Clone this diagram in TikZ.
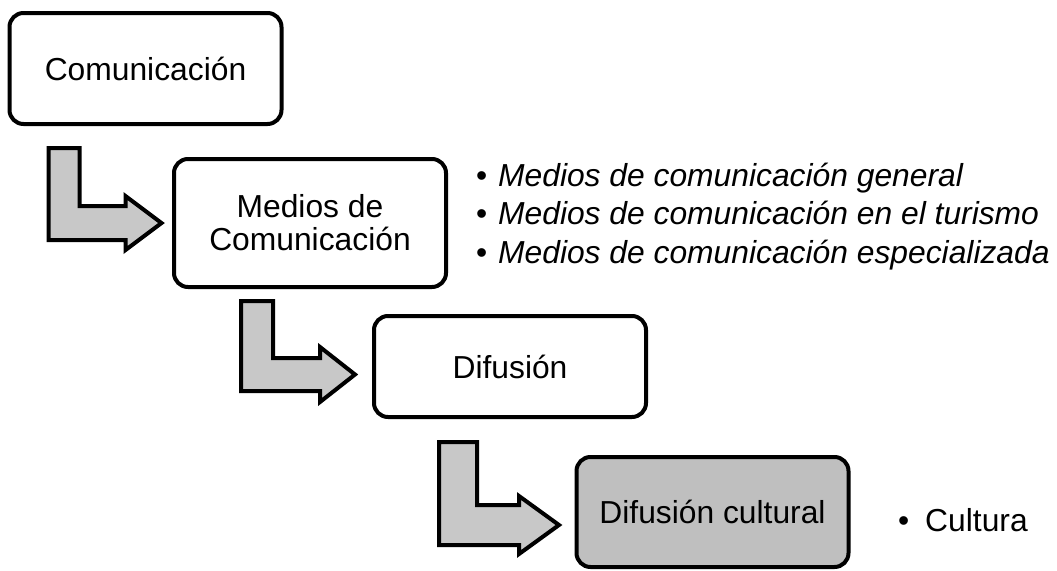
\documentclass[tikz,border=0pt]{standalone}
\usepackage{fontspec}
\setmainfont{Liberation Sans}
\usetikzlibrary{positioning,calc}
\definecolor{grisflecha}{HTML}{C8C8C8}
\definecolor{griscaja}{HTML}{BFBFBF}
\tikzset{caja/.style={rectangle,rounded corners=14pt,draw,line width=4pt,minimum width=272pt,inner sep=0pt,align=center,font=\fontsize{31.8}{33}\selectfont}}
\tikzset{flecha/.style={draw,line width=4pt,fill=grisflecha,line join=miter}}
\tikzset{texto/.style={inner sep=0pt,anchor=base west,font=\fontsize{31.8}{38.5}\selectfont}}

\begin{document}
\begin{tikzpicture}[x=1pt,y=-1pt]
      \useasboundingbox (0,0) rectangle (1057,570);
      \node[caja,minimum height=111pt] (com) at (145.5,68.5) {Comunicación};
      \node[caja,minimum height=128pt] (medios) at (310,223) {Medios de\\Comunicación};
      \node[caja,minimum height=101pt] (dif) at (510,366.5) {Difusión};
      \node[caja,minimum height=110pt,fill=griscaja] (cult) at (712.5,512) {Difusión cultural};
      \draw[flecha] ($(com.south west)+(41,22)$) -- ++(31,0) -- ++(0,58) -- ++(46,0) -- ++(0,-10)
            -- ++(36,27) -- ++(-36,27) -- ++(0,-10) -- ++(-77,0) -- cycle;
      \draw[flecha] ($(medios.south west)+(69,12)$) -- ++(32,0) -- ++(0,57) -- ++(47,0) -- ++(0,-11)
            -- ++(35,27.5) -- ++(-35,27.5) -- ++(0,-11) -- ++(-79,0) -- cycle;
      \draw[flecha] ($(dif.south west)+(67,23)$) -- ++(38,0) -- ++(0,63) -- ++(42,0) -- ++(0,-9)
            -- ++(40,29) -- ++(-40,29) -- ++(0,-9) -- ++(-80,0) -- cycle;
      \foreach \t [count=\i] in {general,en el turismo,especializada}
        \node[texto] (medio\i) at (476,147.5+38.5*\i) {•\hspace{0.34em}\textit{Medios de comunicación \t}};
      \node[texto] (cultura) at (898,531) {•\hspace{0.5em}Cultura};
    \end{tikzpicture}
\end{document}
